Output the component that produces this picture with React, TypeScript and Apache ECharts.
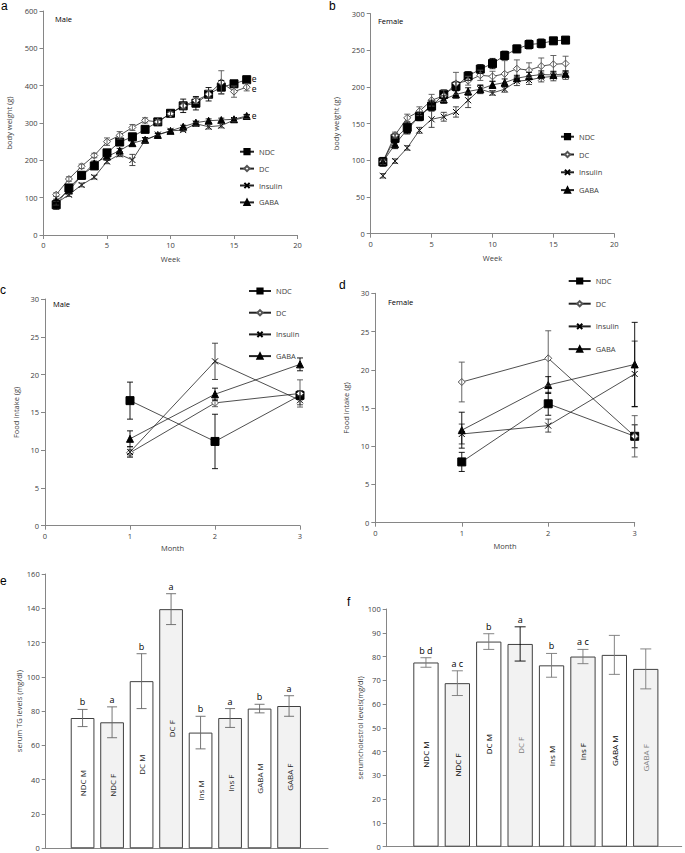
import React, { useEffect, useRef } from "react";
import * as echarts from "echarts";

const FONT = '"Open Sans", "Liberation Sans", sans-serif';

const weeks = [1, 2, 3, 4, 5, 6, 7, 8, 9, 10, 11, 12, 13, 14, 15, 16];
const groupNames = ["NDC", "DC", "Insulin", "GABA"];

// Panel a: male body weight (g)
const maleNDC = [81, 126, 160, 185, 220, 249, 263, 283, 303, 326, 346, 353, 377, 396, 405, 416];
const maleNDCErr = [12, 8, 8, 8, 8, 8, 8, 8, 6, 6, 18, 18, 18, 18, 6, 6];
const maleDC = [108, 150, 184, 213, 250, 267, 288, 307, 303, 325, 346, 360, 377, 409, 384, 396];
const maleDCErr = [5, 6, 6, 6, 10, 10, 8, 7, 6, 5, 8, 8, 10, 31, 15, 10];
const maleIns = [85, 108, 134, 155, 197, 216, 201, 254, 269, 279, 281, 298, 290, 293, 308, 316];
const maleInsErr = [5, 5, 5, 5, 6, 6, 15, 6, 4, 4, 4, 4, 6, 6, 4, 4];
const maleGABA = [91, 119, 159, 192, 210, 226, 246, 255, 268, 279, 290, 301, 306, 308, 310, 319];
const maleGABAErr = [5, 5, 5, 6, 6, 6, 6, 6, 4, 4, 4, 4, 5, 5, 4, 4];

// Panel b: female body weight (g)
const femNDC = [98, 130, 145, 160, 174, 190, 201, 215, 224.5, 232, 243, 252, 258, 259.5, 263, 264];
const femNDCErr = [6, 6, 7, 6, 6, 6, 6, 6, 6, 7, 6, 5, 6, 6, 4, 4];
const femDC = [98, 134.5, 158, 167, 182, 188, 205, 208.6, 216, 214.5, 218, 225, 223, 228.6, 231, 232];
const femDCErr = [4, 4, 5, 6, 8, 8, 15, 6, 7, 7, 18, 12, 10, 11, 12, 10];
const femIns = [79, 99, 117, 141, 156, 159.5, 166, 182, 197, 192, 197, 208, 209.5, 213, 214.5, 215.5];
const femInsErr = [3, 3, 3, 4, 11, 6, 7, 10, 6, 3, 4, 6, 6, 6, 6, 5];
const femGABA = [98, 122, 142, 160, 176, 183, 190, 194, 197, 203, 206, 212, 215, 217, 216.5, 218];
const femGABAErr = [5, 6, 6, 5, 6, 5, 5, 5, 5, 5, 5, 4, 5, 5, 5, 4];

// Panels c, d: food intake (g)
const months = [1, 2, 3];
const mFoodNDC = [16.55, 11.15, 17.25];
const mFoodNDCErr = [2.45, 3.6, 0.6];
const mFoodDC = [9.65, 16.25, 17.5];
const mFoodDCErr = [0.45, 0.5, 1.8];
const mFoodIns = [9.75, 21.75, 16.6];
const mFoodInsErr = [0.7, 2.4, 0.6];
const mFoodGABA = [11.5, 17.4, 21.35];
const mFoodGABAErr = [1.05, 0.8, 0.85];

const fFoodNDC = [7.95, 15.55, 11.3];
const fFoodNDCErr = [1.25, 1.5, 1.5];
const fFoodDC = [18.4, 21.5, 11.3];
const fFoodDCErr = [2.6, 3.6, 2.7];
const fFoodIns = [11.6, 12.7, 19.45];
const fFoodInsErr = [1.3, 0.85, 4.3];
const fFoodGABA = [12.1, 18.0, 20.7];
const fFoodGABAErr = [2.35, 1.1, 5.5];

// Panels e, f: serum levels
const barCategories = ["NDC M", "NDC F", "DC M", "DC F", "Ins M", "Ins F", "GABA M", "GABA F"];
const tgValues = [76, 73.5, 97.5, 139.5, 67.5, 76, 81.5, 83];
const tgErr = [5, 9, 16, 9, 9.5, 5.5, 2.5, 6];
const tgLetters = ["b", "a", "b", "a", "b", "a", "b", "a"];
const cholValues = [77.5, 68.8, 86.3, 85.3, 76.3, 80, 80.7, 74.8];
const cholErr = [2, 5.2, 3.3, 7.2, 5, 3, 8.2, 8.4];
const cholLetters = ["b d", "a c", "b", "a", "b", "a c", "", ""];

const INS_SYMBOL = "path://M0 0L10 10M0 10L10 0";

const symbolFor: Record<string, any> = {
  NDC: { symbol: "rect", size: 8, fill: "#000", stroke: "#000" },
  DC: { symbol: "diamond", size: 7, fill: "#fff", stroke: "#555" },
  Insulin: { symbol: INS_SYMBOL, size: 6, fill: "#000", stroke: "#000" },
  GABA: { symbol: "triangle", size: 7, fill: "#000", stroke: "#000" },
};

function makeLine(
  gi: number,
  name: string,
  xs: number[],
  ys: number[],
  endE: boolean,
  endShift = 0
) {
  const s = symbolFor[name];
  return {
    type: "line",
    name,
    xAxisIndex: gi,
    yAxisIndex: gi,
    z: 3,
    data: xs.map((x, i) => [x, ys[i]]),
    symbol: s.symbol,
    symbolSize: s.size,
    showSymbol: true,
    lineStyle: { color: "#222", width: 0.8 },
    itemStyle: { color: s.fill, borderColor: s.stroke, borderWidth: 1 },
    endLabel: endE
      ? {
          show: true,
          formatter: "e",
          fontSize: 8.5,
          lineHeight: 8,
          color: "#000",
          distance: 5,
          offset: [0, endShift],
          fontFamily: FONT,
        }
      : { show: false },
    emphasis: { disabled: true },
  };
}

function makeErr(
  gi: number,
  xs: number[],
  ys: number[],
  es: number[],
  colors: string[] | string,
  cap: number,
  letters?: string[]
) {
  return {
    type: "custom",
    name: "err",
    xAxisIndex: gi,
    yAxisIndex: gi,
    z: 4,
    silent: true,
    data: xs.map((x, i) => [x, ys[i], es[i], i]),
    encode: { x: 0, y: 1 },
    renderItem: (params: any, api: any) => {
      const x = api.value(0);
      const y = api.value(1);
      const e = api.value(2);
      const i = api.value(3);
      const t = api.coord([x, y + e]);
      const b = api.coord([x, y - e]);
      const color = Array.isArray(colors) ? colors[i] : colors;
      const st = { stroke: color, lineWidth: 0.9 };
      const ch: any[] = [
        { type: "line", shape: { x1: t[0], y1: t[1], x2: b[0], y2: b[1] }, style: st },
        { type: "line", shape: { x1: t[0] - cap, y1: t[1], x2: t[0] + cap, y2: t[1] }, style: st },
        { type: "line", shape: { x1: b[0] - cap, y1: b[1], x2: b[0] + cap, y2: b[1] }, style: st },
      ];
      if (letters && letters[i]) {
        ch.push({
          type: "text",
          x: t[0],
          y: t[1] - 3,
          style: {
            text: letters[i],
            textAlign: "center",
            textVerticalAlign: "bottom",
            align: "center",
            verticalAlign: "bottom",
            fill: "#000",
            font: `9px ${FONT}`,
          },
        });
      }
      return { type: "group", children: ch };
    },
  };
}

const axisLineStyle = { lineStyle: { color: "#868686", width: 1 } };
const tickStyle = { show: true, length: 4, lineStyle: { color: "#868686" } };
const labelStyle = { fontSize: 7.5, color: "#404040", margin: 6, fontFamily: FONT };
const nameStyle = { fontSize: 7.5, color: "#404040", fontFamily: FONT };

function xVal(gi: number, max: number, interval: number, name: string, gap: number) {
  return {
    type: "value",
    gridIndex: gi,
    min: 0,
    max,
    interval,
    name,
    nameLocation: "middle",
    nameGap: gap,
    nameTextStyle: nameStyle,
    axisLine: axisLineStyle,
    axisTick: tickStyle,
    axisLabel: labelStyle,
    splitLine: { show: false },
  };
}

function yVal(gi: number, max: number, interval: number, name: string, gap: number) {
  return {
    type: "value",
    gridIndex: gi,
    min: 0,
    max,
    interval,
    name,
    nameLocation: "middle",
    nameRotate: 90,
    nameGap: gap,
    nameTextStyle: nameStyle,
    axisLine: { show: true, ...axisLineStyle },
    axisTick: tickStyle,
    axisLabel: labelStyle,
    splitLine: { show: false },
  };
}

function barX(gi: number, max: number) {
  return {
    type: "value",
    gridIndex: gi,
    min: 0,
    max,
    axisLine: axisLineStyle,
    axisTick: { show: false },
    axisLabel: { show: false },
    splitLine: { show: false },
  };
}

function legendAt(left: number, top: number, gap: number, width: number) {
  return {
    orient: "vertical",
    left,
    top,
    padding: 0,
    itemWidth: width,
    itemHeight: 6.5,
    itemGap: gap,
    selectedMode: false,
    data: groupNames,
    textStyle: { fontSize: 7.5, lineHeight: 10, color: "#404040", fontFamily: FONT },
  };
}

function makeBars(gi: number, values: number[], width: number, labelColors: string[]) {
  const pos = barCategories.map((_, i) => i + 1.25);
  return {
    type: "bar",
    xAxisIndex: gi,
    yAxisIndex: gi,
    z: 2,
    barWidth: width,
    data: barCategories.map((c, i) => ({
      name: c,
      value: [pos[i], values[i]],
      itemStyle: { color: c.endsWith("F") ? "#f2f2f2" : "#ffffff" },
      label: { color: labelColors[i] },
    })),
    itemStyle: { borderColor: "#404040", borderWidth: 1 },
    label: {
      show: true,
      position: "inside",
      rotate: 90,
      formatter: "{b}",
      fontSize: 8,
      fontFamily: FONT,
    },
    emphasis: { disabled: true },
  };
}

function txt(text: string, left: number, top: number, size: number, font = FONT) {
  return {
    type: "text",
    left,
    top,
    style: { text, fill: "#000", font: `${size}px ${font}` },
  };
}

export default function App() {
  const ref = useRef<HTMLDivElement>(null);
  useEffect(() => {
    if (!ref.current) return;
    const chart = echarts.init(ref.current, undefined, { renderer: "svg" });
    const barPos = barCategories.map((_, i) => i + 1.25);
    const option: any = {
      animation: false,
      textStyle: { fontFamily: FONT },
      grid: [
        { left: 43.5, top: 11, width: 254, height: 224, outerBoundsMode: "none" },
        { left: 370.7, top: 13.7, width: 243.6, height: 220, outerBoundsMode: "none" },
        { left: 45, top: 299, width: 255, height: 226.7, outerBoundsMode: "none" },
        { left: 375.3, top: 293.3, width: 259.4, height: 229.4, outerBoundsMode: "none" },
        { left: 45.7, top: 574, width: 282.3, height: 274.3, outerBoundsMode: "none" },
        { left: 386.7, top: 609, width: 295, height: 237.7, outerBoundsMode: "none" },
      ],
      xAxis: [
        xVal(0, 20, 5, "Week", 20),
        xVal(1, 20, 5, "Week", 20),
        xVal(2, 3, 1, "Month", 18),
        xVal(3, 3, 1, "Month", 19.5),
        barX(4, 282.3 / 29.5),
        barX(5, 295 / 31.4),
      ],
      yAxis: [
        yVal(0, 600, 100, "body weight (g)", 30.5),
        yVal(1, 300, 50, "body weight (g)", 31),
        yVal(2, 30, 5, "Food intake (g)", 25.5),
        yVal(3, 30, 5, "Food intake (g)", 25.8),
        yVal(4, 160, 20, "serum TG levels (mg/dl)", 23),
        yVal(5, 100, 10, "serumcholestrol levels(mg/dl)", 22),
      ],
      legend: [
        legendAt(239, 146.7, 6.9, 14),
        legendAt(560, 131.7, 7.8, 13),
        legendAt(248, 286, 11.7, 22),
        legendAt(567.7, 276, 12.7, 22),
      ],
      graphic: [
        txt("a", 1, 0, 12, '"Liberation Sans", Arial, sans-serif'),
        txt("b", 329, 0, 12, '"Liberation Sans", Arial, sans-serif'),
        txt("c", 0, 284, 12, '"Liberation Sans", Arial, sans-serif'),
        txt("d", 339, 279, 12, '"Liberation Sans", Arial, sans-serif'),
        txt("e", 0, 575, 12, '"Liberation Sans", Arial, sans-serif'),
        txt("f", 347, 596, 12, '"Liberation Sans", Arial, sans-serif'),
        txt("Male", 55, 15, 7.5),
        txt("Female", 378, 17, 7.5),
        txt("Male", 53, 300, 7.5),
        txt("Female", 388, 298, 7.5),
      ],
      series: [
        // a
        makeErr(0, weeks, maleNDC, maleNDCErr, "#000", 3),
        makeErr(0, weeks, maleDC, maleDCErr, "#555", 3),
        makeErr(0, weeks, maleIns, maleInsErr, "#333", 3),
        makeErr(0, weeks, maleGABA, maleGABAErr, "#000", 3),
        makeLine(0, "NDC", weeks, maleNDC, true, -1.5),
        makeLine(0, "DC", weeks, maleDC, true, 1.5),
        makeLine(0, "Insulin", weeks, maleIns, false),
        makeLine(0, "GABA", weeks, maleGABA, true),
        // b
        makeErr(1, weeks, femNDC, femNDCErr, "#000", 3),
        makeErr(1, weeks, femDC, femDCErr, "#555", 3),
        makeErr(1, weeks, femIns, femInsErr, "#333", 3),
        makeErr(1, weeks, femGABA, femGABAErr, "#000", 3),
        makeLine(1, "NDC", weeks, femNDC, false),
        makeLine(1, "DC", weeks, femDC, false),
        makeLine(1, "Insulin", weeks, femIns, false),
        makeLine(1, "GABA", weeks, femGABA, false),
        // c
        makeErr(2, months, mFoodNDC, mFoodNDCErr, "#000", 3),
        makeErr(2, months, mFoodDC, mFoodDCErr, "#555", 3),
        makeErr(2, months, mFoodIns, mFoodInsErr, "#333", 3),
        makeErr(2, months, mFoodGABA, mFoodGABAErr, "#000", 3),
        makeLine(2, "NDC", months, mFoodNDC, false),
        makeLine(2, "DC", months, mFoodDC, false),
        makeLine(2, "Insulin", months, mFoodIns, false),
        makeLine(2, "GABA", months, mFoodGABA, false),
        // d
        makeErr(3, months, fFoodNDC, fFoodNDCErr, "#000", 3),
        makeErr(3, months, fFoodDC, fFoodDCErr, "#555", 3),
        makeErr(3, months, fFoodIns, fFoodInsErr, "#333", 3),
        makeErr(3, months, fFoodGABA, fFoodGABAErr, "#000", 3),
        makeLine(3, "NDC", months, fFoodNDC, false),
        makeLine(3, "DC", months, fFoodDC, false),
        makeLine(3, "Insulin", months, fFoodIns, false),
        makeLine(3, "GABA", months, fFoodGABA, false),
        // e
        makeBars(4, tgValues, 23.7, barCategories.map(() => "#262626")),
        makeErr(4, barPos, tgValues, tgErr, "#666", 5, tgLetters),
        // f
        makeBars(
          5,
          cholValues,
          25.3,
          barCategories.map((c) => (c === "DC F" || c === "GABA F" ? "#808080" : "#000"))
        ),
        makeErr(
          5,
          barPos,
          cholValues,
          cholErr,
          barCategories.map((c) => (c === "DC F" ? "#000" : "#777")),
          5.5,
          cholLetters
        ),
      ],
    };
    chart.setOption(option);
    return () => chart.dispose();
  }, []);
  return (
    <div
      ref={ref}
      style={{ position: "fixed", left: 0, top: 0, width: 685, height: 853, background: "#fff" }}
    />
  );
}
